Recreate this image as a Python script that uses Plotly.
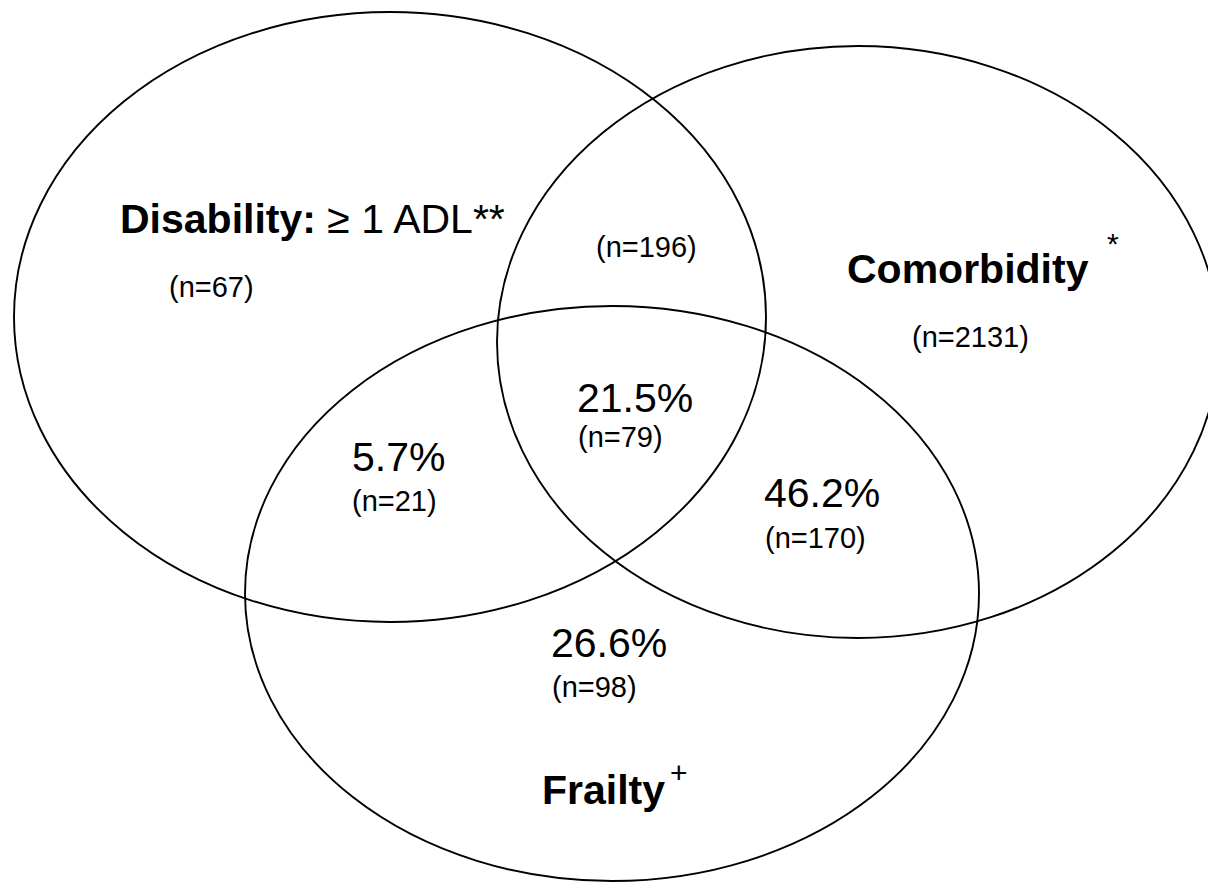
import plotly.graph_objects as go

# ---- data ----
set_names = ["Disability", "Comorbidity", "Frailty"]
set_titles = ["<b>Disability:</b> ≥ 1 ADL**", "<b>Comorbidity</b>", "<b>Frailty</b>"]
set_marks = ["", "*", "+"]
region_names = ["Disability only", "Disability & Comorbidity", "Comorbidity only",
                "All three", "Disability & Frailty", "Comorbidity & Frailty", "Frailty only"]
region_pct = [None, None, None, 21.5, 5.7, 46.2, 26.6]
region_n = [67, 196, 2131, 79, 21, 170, 98]

# ---- layout geometry (pixel space) ----
W, H = 1208, 882
ellipses = {  # x0, y0, x1, y1
    "Disability": (14, 12, 766, 622),
    "Comorbidity": (497, 46, 1219, 638),
    "Frailty": (245, 306, 979, 881),
}
title_pos = {"Disability": (312, 219), "Comorbidity": (968, 269), "Frailty": (603, 790)}
mark_pos = {"Comorbidity": (1113, 243), "Frailty": (679, 772)}
pct_pos = {"All three": (635, 398), "Disability & Frailty": (398, 457),
           "Comorbidity & Frailty": (822, 493), "Frailty only": (609, 643)}
n_pos = {"Disability only": (211, 287), "Disability & Comorbidity": (646, 247),
         "Comorbidity only": (970, 337), "All three": (620, 437),
         "Disability & Frailty": (394, 501), "Comorbidity & Frailty": (815, 538),
         "Frailty only": (594, 687)}

FONT = "Liberation Sans, Arial, Helvetica, sans-serif"

fig = go.Figure()
fig.add_trace(go.Scatter(x=[0, W], y=[0, H], mode="markers",
                         marker=dict(opacity=0), hoverinfo="skip", showlegend=False))

for name in set_names:
    x0, y0, x1, y1 = ellipses[name]
    fig.add_shape(type="circle", xref="x", yref="y", x0=x0, y0=y0, x1=x1, y1=y1,
                  line=dict(color="black", width=1.9), fillcolor="rgba(0,0,0,0)")

for name, title, mark in zip(set_names, set_titles, set_marks):
    tx, ty = title_pos[name]
    fig.add_annotation(x=tx, y=ty, text=title, showarrow=False,
                       xanchor="center", yanchor="middle",
                       font=dict(family=FONT, size=41, color="black"))
    if mark:
        mx, my = mark_pos[name]
        fig.add_annotation(x=mx, y=my, text=mark, showarrow=False,
                           xanchor="center", yanchor="middle",
                           font=dict(family=FONT, size=30, color="black"))

for rname, pct, n in zip(region_names, region_pct, region_n):
    if pct is not None:
        px, py = pct_pos[rname]
        fig.add_annotation(x=px, y=py, text=f"{pct:.1f}%", showarrow=False,
                           xanchor="center", yanchor="middle",
                           font=dict(family=FONT, size=41, color="black"))
    nx, ny = n_pos[rname]
    fig.add_annotation(x=nx, y=ny, text=f"(n={n})", showarrow=False,
                       xanchor="center", yanchor="middle",
                       font=dict(family=FONT, size=29, color="black"))

fig.update_xaxes(range=[0, W], visible=False, fixedrange=True)
fig.update_yaxes(range=[H, 0], visible=False, fixedrange=True)
fig.update_layout(width=W, height=H, margin=dict(l=0, r=0, t=0, b=0),
                  plot_bgcolor="white", paper_bgcolor="white", showlegend=False)

fig.write_html("out.html", config={"displayModeBar": False},
               post_script="document.body.style.margin='0px';document.body.style.overflow='hidden';")
